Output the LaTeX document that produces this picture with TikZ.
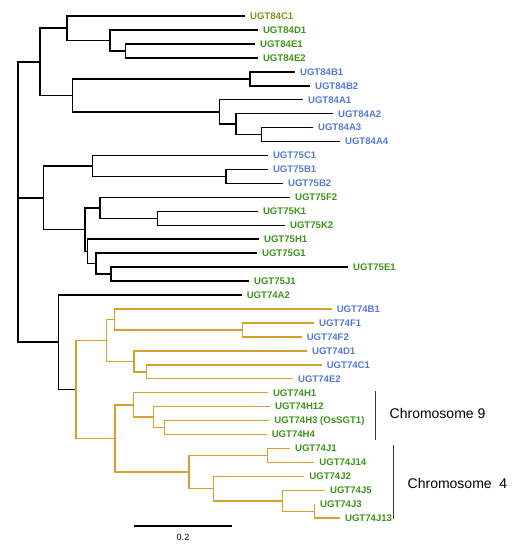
\documentclass[tikz,border=0pt]{standalone}
\usepackage{fontspec}
\setmainfont{Liberation Sans}
\usetikzlibrary{positioning}

\definecolor{leafgreen}{RGB}{62,148,28}
\definecolor{leafolive}{RGB}{128,150,24}
\definecolor{leafblue}{RGB}{86,122,216}
\definecolor{cladegold}{RGB}{212,160,42}
\definecolor{bargray}{RGB}{55,55,55}

\begin{document}
\begin{tikzpicture}[x=0.75pt, y=-0.75pt,
    leaf/.style={anchor=west, inner xsep=3.6pt, inner ysep=0pt, font=\fontsize{7.2}{8}\selectfont\bfseries},
    leafg/.style={leaf, text=leafgreen},
    leafb/.style={leaf, text=leafblue},
    branch/.style={line width=1.1pt, draw=black},
    gbranch/.style={branch, draw=cladegold},
    chrom/.style={anchor=west, font=\fontsize{10.5}{12}\selectfont},
    chrombar/.style={line width=0.8pt, draw=bargray}]

    \useasboundingbox (0,0) rectangle (517,550);

    % UGT84 clade
    \node[leaf, text=leafolive] (l84C1) at (245,16) {UGT84C1};
    \node[leafg] (l84D1) at (258,30) {UGT84D1};
    \node[leafg] (l84E1) at (255,43.9) {UGT84E1};
    \node[leafg] (l84E2) at (258,57.9) {UGT84E2};
    \node[leafb] (l84B1) at (295,71.8) {UGT84B1};
    \node[leafb] (l84B2) at (310,85.8) {UGT84B2};
    \node[leafb] (l84A1) at (303,99.7) {UGT84A1};
    \node[leafb] (l84A2) at (333,113.7) {UGT84A2};
    \node[leafb] (l84A3) at (313,127.6) {UGT84A3};
    \node[leafb] (l84A4) at (340,141.6) {UGT84A4};

    % UGT75 clade
    \node[leafb] (l75C1) at (268,155.5) {UGT75C1};
    \node[leafb] (l75B1) at (268,169.5) {UGT75B1};
    \node[leafb] (l75B2) at (283,183.4) {UGT75B2};
    \node[leafg] (l75F2) at (290,197.4) {UGT75F2};
    \node[leafg] (l75K1) at (258,211.3) {UGT75K1};
    \node[leafg] (l75K2) at (285,225.3) {UGT75K2};
    \node[leafg] (l75H1) at (259,239.2) {UGT75H1};
    \node[leafg] (l75G1) at (257,253.2) {UGT75G1};
    \node[leafg] (l75E1) at (348,267.1) {UGT75E1};
    \node[leafg] (l75J1) at (249,281.1) {UGT75J1};

    % UGT74 clade
    \node[leafg] (l74A2) at (241.7,295) {UGT74A2};
    \node[leafb] (l74B1) at (331.7,309) {UGT74B1};
    \node[leafb] (l74F1) at (314,322.9) {UGT74F1};
    \node[leafb] (l74F2) at (301.7,336.9) {UGT74F2};
    \node[leafb] (l74D1) at (307,350.8) {UGT74D1};
    \node[leafb] (l74C1) at (321.7,364.8) {UGT74C1};
    \node[leafb] (l74E2) at (293,378.7) {UGT74E2};
    \node[leafg] (l74H1) at (268,392.7) {UGT74H1};
    \node[leafg] (l74H12) at (270,406.6) {UGT74H12};
    \node[leafg] (l74H3) at (269.3,420.6) {UGT74H3 (OsSGT1)};
    \node[leafg] (l74H4) at (266.7,434.5) {UGT74H4};
    \node[leafg] (l74J1) at (290,448.5) {UGT74J1};
    \node[leafg] (l74J14) at (314.3,462.4) {UGT74J14};
    \node[leafg] (l74J2) at (304.3,476.4) {UGT74J2};
    \node[leafg] (l74J5) at (325,490.3) {UGT74J5};
    \node[leafg] (l74J3) at (315,504.3) {UGT74J3};
    \node[leafg] (l74J13) at (340,518.2) {UGT74J13};

    % internal nodes
    \coordinate (root) at (18,197.8);
    \coordinate (n84) at (40,61.8);
    \coordinate (n84CDE) at (67,28.2);
    \coordinate (n84DE) at (110,40.5);
    \coordinate (n84E) at (125.7,50.9);
    \coordinate (n84BA) at (72.7,95.4);
    \coordinate (n84B) at (250,78.8);
    \coordinate (n84A) at (219.3,112);
    \coordinate (n84A234) at (236,124.2);
    \coordinate (n84A34) at (261.7,134.6);

    \coordinate (n75) at (43.3,197.8);
    \coordinate (n75CB) at (92.3,166);
    \coordinate (n75B) at (226,176.5);
    \coordinate (n75R) at (85,229.6);
    \coordinate (n75FK) at (100,207.9);
    \coordinate (n75K) at (157.7,218.3);
    \coordinate (n75HGEJ) at (87.3,251.4);
    \coordinate (n75GEJ) at (96,263.7);
    \coordinate (n75EJ) at (111,274.1);

    \coordinate (n74) at (58.3,342.2);
    \coordinate (n74Y) at (76,389.5);
    \coordinate (n74BFDCE) at (106.7,340.4);
    \coordinate (n74BF) at (114.3,319.5);
    \coordinate (n74F) at (242.7,329.9);
    \coordinate (n74DCE) at (134,361.3);
    \coordinate (n74CE) at (146.7,371.8);
    \coordinate (n74HJ) at (115,438.5);
    \coordinate (n74H) at (133.3,404.9);
    \coordinate (n74H2) at (153.3,417.1);
    \coordinate (n74H34) at (164.3,427.6);
    \coordinate (n74J) at (189,472);
    \coordinate (n74J1) at (267.3,455.5);
    \coordinate (n74J2) at (213.3,488.6);
    \coordinate (n74J5) at (282.3,500.8);
    \coordinate (n74J3) at (314.3,511.3);

    % branches
    \draw[branch] (root) |- (n84);
    \draw[branch] (root) |- (n75);
    \draw[branch] (root) |- (n74);

    \draw[branch] (n84) |- (n84CDE);
    \draw[branch] (n84) |- (n84BA);
    \draw[branch] (n84CDE) |- (l84C1.west);
    \draw[branch] (n84CDE) |- (n84DE);
    \draw[branch] (n84DE) |- (l84D1.west);
    \draw[branch] (n84DE) |- (n84E);
    \draw[branch] (n84E) |- (l84E1.west);
    \draw[branch] (n84E) |- (l84E2.west);
    \draw[branch] (n84BA) |- (n84B);
    \draw[branch] (n84BA) |- (n84A);
    \draw[branch] (n84B) |- (l84B1.west);
    \draw[branch] (n84B) |- (l84B2.west);
    \draw[branch] (n84A) |- (l84A1.west);
    \draw[branch] (n84A) |- (n84A234);
    \draw[branch] (n84A234) |- (l84A2.west);
    \draw[branch] (n84A234) |- (n84A34);
    \draw[branch] (n84A34) |- (l84A3.west);
    \draw[branch] (n84A34) |- (l84A4.west);

    \draw[branch] (n75) |- (n75CB);
    \draw[branch] (n75) |- (n75R);
    \draw[branch] (n75CB) |- (l75C1.west);
    \draw[branch] (n75CB) |- (n75B);
    \draw[branch] (n75B) |- (l75B1.west);
    \draw[branch] (n75B) |- (l75B2.west);
    \draw[branch] (n75R) |- (n75FK);
    \draw[branch] (n75R) |- (n75HGEJ);
    \draw[branch] (n75FK) |- (l75F2.west);
    \draw[branch] (n75FK) |- (n75K);
    \draw[branch] (n75K) |- (l75K1.west);
    \draw[branch] (n75K) |- (l75K2.west);
    \draw[branch] (n75HGEJ) |- (l75H1.west);
    \draw[branch] (n75HGEJ) |- (n75GEJ);
    \draw[branch] (n75GEJ) |- (l75G1.west);
    \draw[branch] (n75GEJ) |- (n75EJ);
    \draw[branch] (n75EJ) |- (l75E1.west);
    \draw[branch] (n75EJ) |- (l75J1.west);

    \draw[branch] (n74) |- (l74A2.west);
    \draw[branch] (n74) |- (n74Y);
    \draw[gbranch] (n74Y) |- (n74BFDCE);
    \draw[gbranch] (n74Y) |- (n74HJ);
    \draw[gbranch] (n74BFDCE) |- (n74BF);
    \draw[gbranch] (n74BFDCE) |- (n74DCE);
    \draw[gbranch] (n74BF) |- (l74B1.west);
    \draw[gbranch] (n74BF) |- (n74F);
    \draw[gbranch] (n74F) |- (l74F1.west);
    \draw[gbranch] (n74F) |- (l74F2.west);
    \draw[gbranch] (n74DCE) |- (l74D1.west);
    \draw[gbranch] (n74DCE) |- (n74CE);
    \draw[gbranch] (n74CE) |- (l74C1.west);
    \draw[gbranch] (n74CE) |- (l74E2.west);
    \draw[gbranch] (n74HJ) |- (n74H);
    \draw[gbranch] (n74HJ) |- (n74J);
    \draw[gbranch] (n74H) |- (l74H1.west);
    \draw[gbranch] (n74H) |- (n74H2);
    \draw[gbranch] (n74H2) |- (l74H12.west);
    \draw[gbranch] (n74H2) |- (n74H34);
    \draw[gbranch] (n74H34) |- (l74H3.west);
    \draw[gbranch] (n74H34) |- (l74H4.west);
    \draw[gbranch] (n74J) |- (n74J1);
    \draw[gbranch] (n74J) |- (n74J2);
    \draw[gbranch] (n74J1) |- (l74J1.west);
    \draw[gbranch] (n74J1) |- (l74J14.west);
    \draw[gbranch] (n74J2) |- (l74J2.west);
    \draw[gbranch] (n74J2) |- (n74J5);
    \draw[gbranch] (n74J5) |- (l74J5.west);
    \draw[gbranch] (n74J5) |- (n74J3);
    \draw[gbranch] (n74J3) |- (l74J3.west);
    \draw[gbranch] (n74J3) |- (l74J13.west);

    % chromosome brackets
    \coordinate (c9top) at (375.7,391);
    \coordinate (c9bot) at (375.7,440);
    \coordinate (c4top) at (393.3,445);
    \coordinate (c4bot) at (393.3,519);
    \draw[chrombar] (c9top) -- (c9bot);
    \draw[chrombar] (c4top) -- (c4bot);
    \node[chrom] (chr9) at (385,413) {Chromosome 9};
    \node[chrom] (chr4) at (403,483) {Chromosome\ \ 4};

    % scale bar
    \coordinate (sbleft) at (134.3,526);
    \coordinate (sbright) at (232.3,526);
    \draw[line width=1.2pt] (sbleft) -- (sbright);
    \node[font=\fontsize{6.8}{8}\selectfont, inner sep=1pt] (sblabel) at (183,537) {0.2};
\end{tikzpicture}
\end{document}
